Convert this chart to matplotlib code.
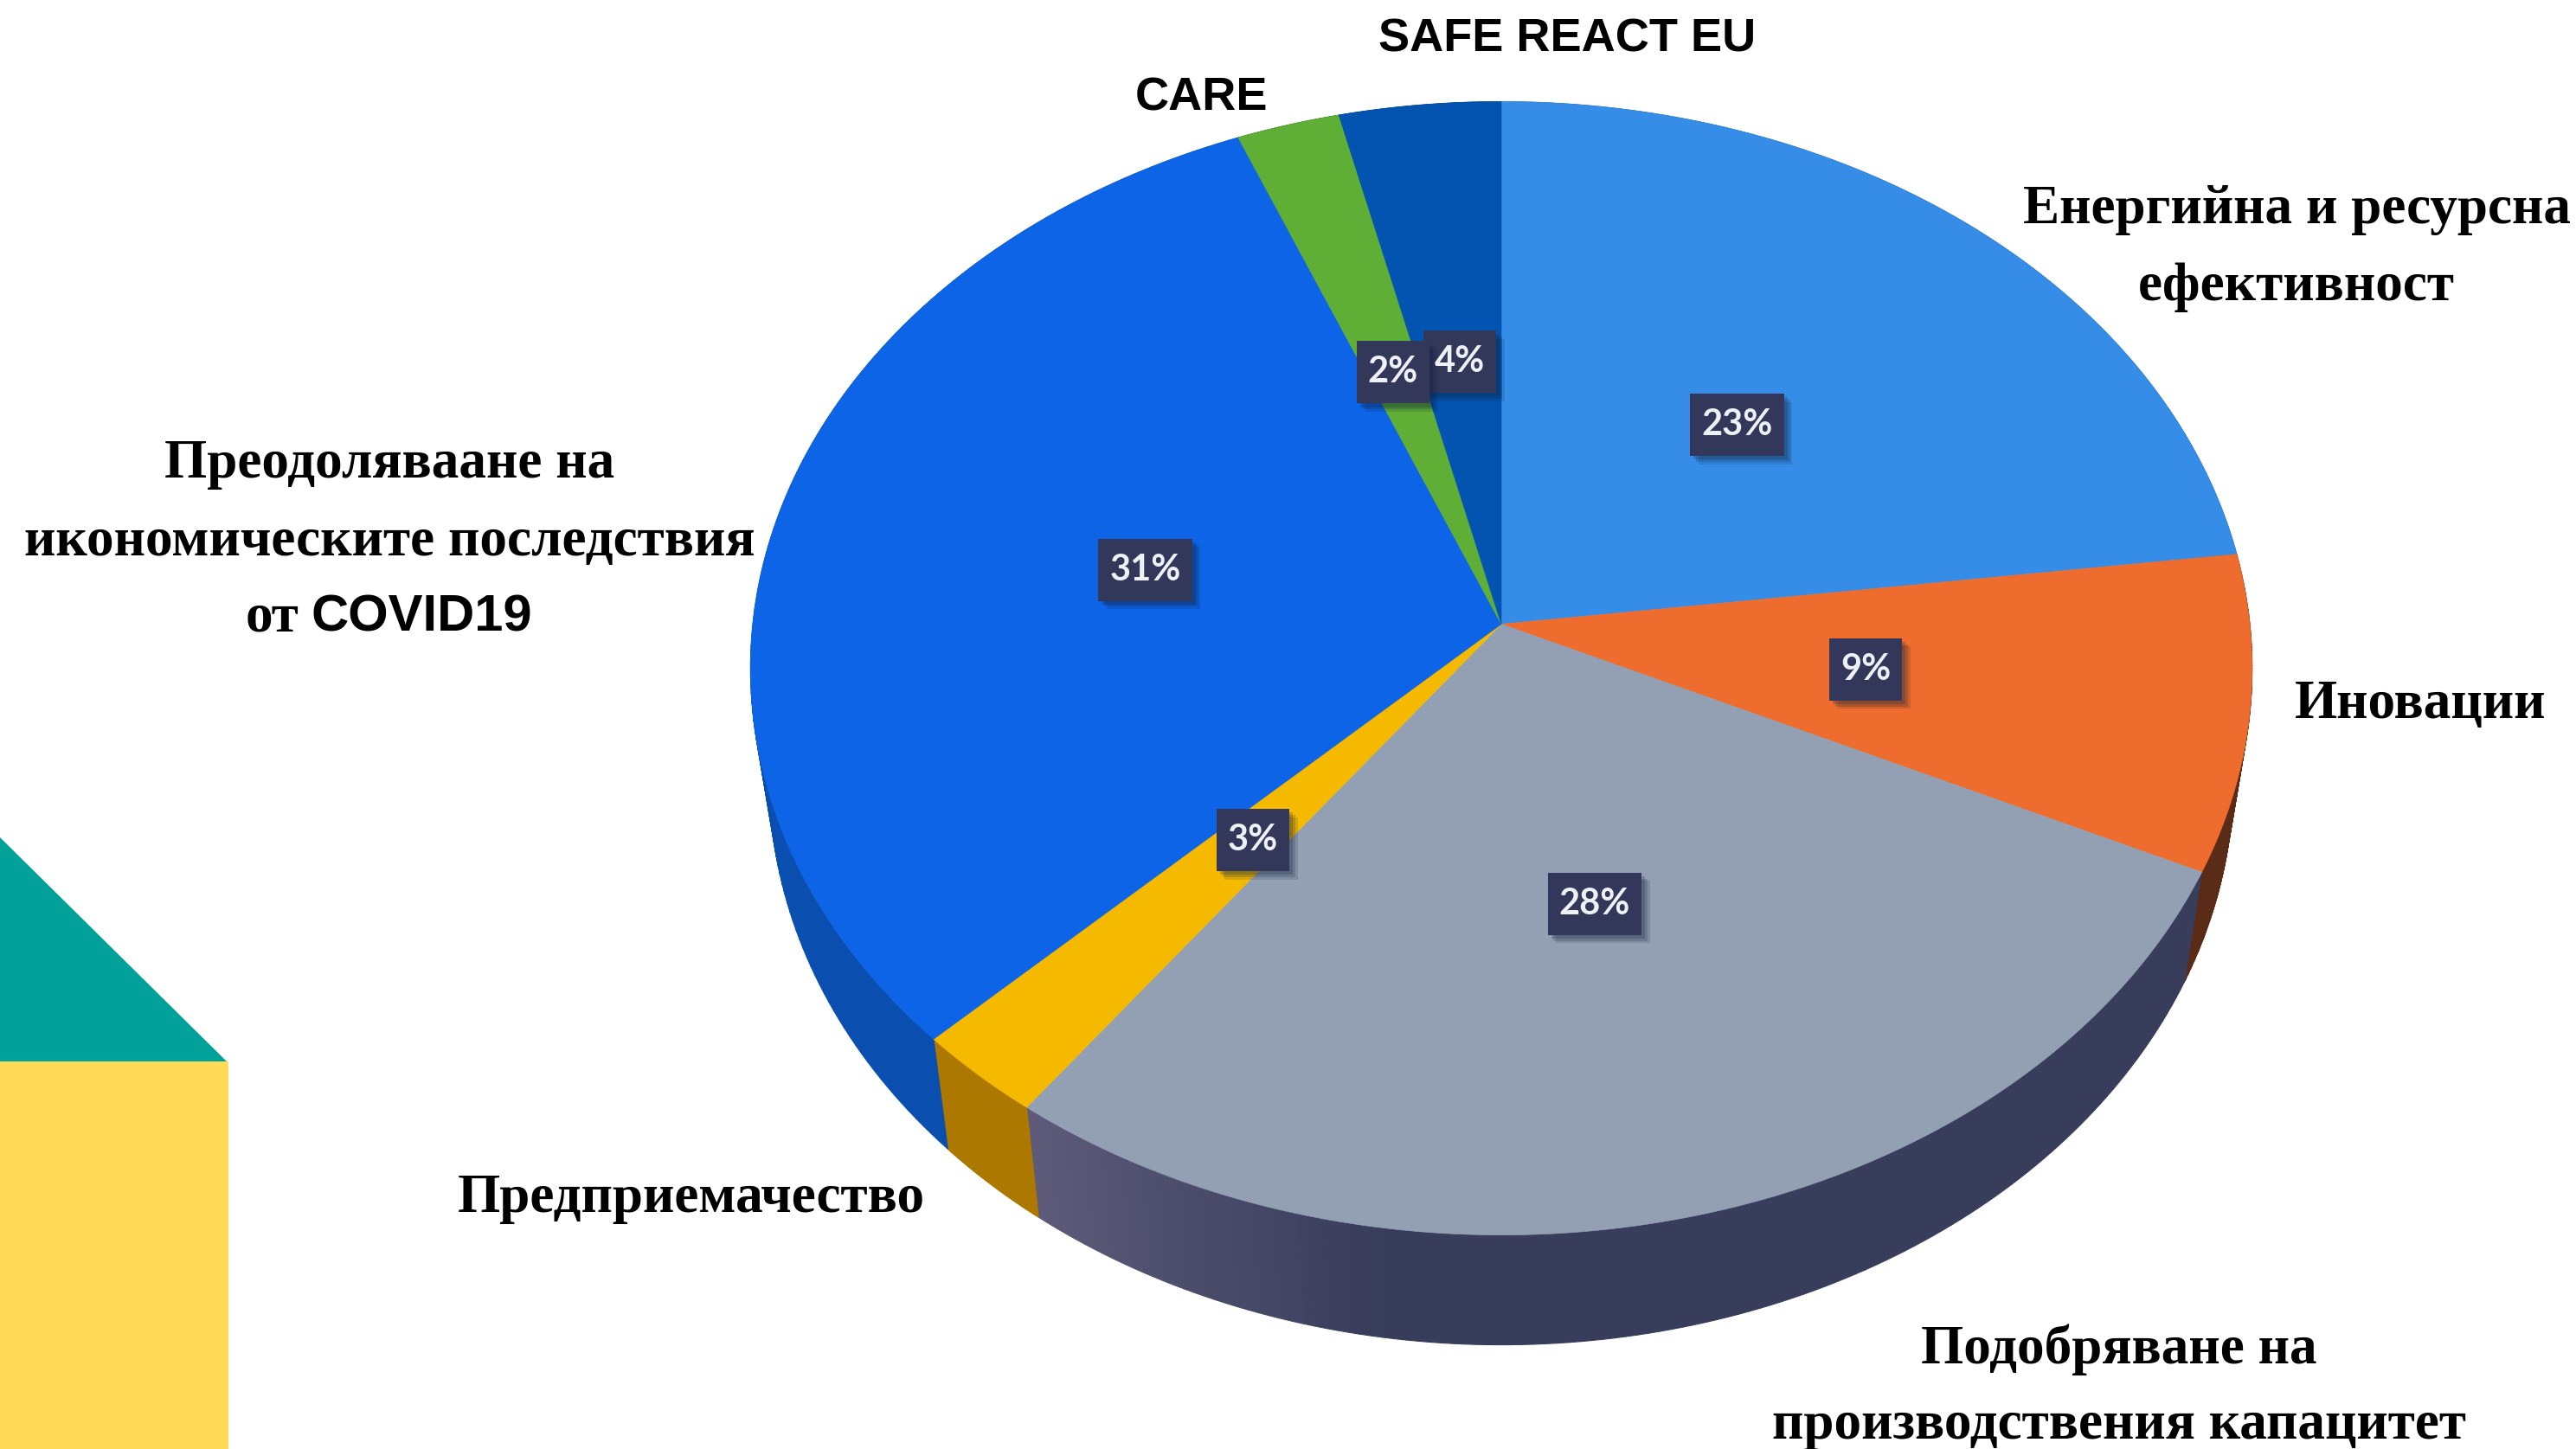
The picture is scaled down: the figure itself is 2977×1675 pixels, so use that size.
import numpy as np
import matplotlib
matplotlib.use("Agg")
import matplotlib.pyplot as plt
import matplotlib.patheffects as pe
from matplotlib.colors import to_rgb
from matplotlib.patches import Rectangle

# Data
categories = ["Енергийна и ресурсна ефективност", "Иновации",
              "Подобряване на производствения капацитет", "Предприемачество",
              "Преодоляваане на икономическите последствия от COVID19",
              "CARE", "SAFE REACT EU"]
values = [23.0, 9.0, 28.13, 2.6, 31.12, 2.4, 3.75]
pct_labels = ["23%", "9%", "28%", "3%", "31%", "2%", "4%"]
top_colors = ["#358DE8", "#EE6C2D", "#93A0B3", "#F5BA00", "#0D64E6", "#5FAE36", "#0254B0"]
wall_start = ["#1E5FA8", "#5A2C18", "#383D5B", "#AD7800", "#0A4FB0", "#3A7020", "#013A80"]
wall_end = ["#1E5FA8", "#5A2C18", "#5E5C7A", "#AD7800", "#0A4FB0", "#3A7020", "#013A80"]

W, H = 2977, 1675
CX, CY = 1735.0, 721.5      # image of the pie centre
A, B, K = 865.0, 651.0, 0.078
DEPTH, WALL_SCALE = 127.0, 0.975
LABEL_R = 0.49
BOX_PADX, BOX_H = 13, 72

fig = plt.figure(figsize=(W / 100, H / 100), dpi=100, facecolor="white")
ax = fig.add_axes([0, 0, 1, 1])
ax.set_xlim(0, W)
ax.set_ylim(H, 0)
ax.axis("off")


def project(theta, r=1.0):
    den = 1 + K * r * np.cos(theta)
    return CX + A * r * np.sin(theta) / den, CY - B * r * np.cos(theta) / den


# decorative corner shapes
ax.fill([0, 0, 262], [968, 1227, 1227], color="#00A199", lw=0)
ax.fill([0, 264, 264, 0], [1227, 1227, H, H], color="#FFDB58", lw=0)

edges = np.radians(np.concatenate([[0], np.cumsum(values)]) / sum(values) * 360)

# side wall, drawn in small strips so it can carry a gradient
for i in range(len(values)):
    th = np.linspace(edges[i], edges[i + 1], 121)
    c0, c1 = np.array(to_rgb(wall_start[i])), np.array(to_rgb(wall_end[i]))
    n = len(th) - 1
    for j in range(n):
        f = max(0.0, (j / n - 0.72) / 0.28)
        col = c0 + (c1 - c0) * f
        t = th[j:j + 2]
        x, y = project(t)
        xb = CX + (x - CX) * WALL_SCALE
        yb = y + DEPTH
        ax.fill(np.r_[x, xb[::-1]], np.r_[y, yb[::-1]], color=col, lw=0.8, zorder=2)

# top faces
for i in range(len(values)):
    th = np.linspace(edges[i], edges[i + 1], 300)
    x, y = project(th)
    ax.fill(np.r_[CX, x], np.r_[CY, y], color=top_colors[i], lw=0.5, zorder=3)

# percent labels: box sized from the measured text
renderer = fig.canvas.get_renderer()
for i, lab in enumerate(pct_labels):
    mid = (edges[i] + edges[i + 1]) / 2
    x, y = project(mid, LABEL_R)
    y += 2
    z = 5 - i * 0.01
    t = ax.text(x, y, lab, ha="center", va="center", color="#EEF1F6", fontsize=30,
                family="Lato", fontweight="bold", zorder=5.5)
    tw = t.get_window_extent(renderer).width
    box = Rectangle((x - tw / 2 - BOX_PADX, y - BOX_H / 2), tw + 2 * BOX_PADX, BOX_H,
                    fc="#33375A", ec="none", zorder=z)
    box.set_path_effects([
        pe.SimplePatchShadow(offset=(7, -7), shadow_rgbFace="#10203A", alpha=0.14),
        pe.SimplePatchShadow(offset=(5, -5), shadow_rgbFace="#10203A", alpha=0.18),
        pe.SimplePatchShadow(offset=(3, -3), shadow_rgbFace="#10203A", alpha=0.22),
        pe.Normal()])
    ax.add_patch(box)

serif = dict(family="Liberation Serif", fontweight="bold", color="black", fontsize=45.5,
             va="baseline", zorder=6)
sans = dict(family="Liberation Sans", fontweight="bold", color="black", fontsize=39,
            va="baseline", zorder=6)

ax.text(1811, 59, "SAFE REACT EU", ha="center", **sans)
ax.text(1388, 127, "CARE", ha="center", **sans)
ax.text(2654, 258, "Енергийна и ресурсна", ha="center", **serif)
ax.text(2654, 347, "ефективност", ha="center", **serif)
ax.text(2797, 830, "Иновации", ha="center", **serif)
ax.text(2449, 1576, "Подобряване на", ha="center", **serif)
ax.text(2449, 1663, "производствения капацитет", ha="center", **serif)
ax.text(799, 1401, "Предприемачество", ha="center", **serif)
ax.text(450, 552, "Преодоляваане на", ha="center", **serif)
ax.text(450, 642, "икономическите последствия", ha="center", **serif)
ax.text(345, 729, "от", ha="right", **serif)
covid = dict(sans, fontsize=43)
ax.text(359, 729, "COVID19", ha="left", **covid)

fig.savefig("out.png", dpi=100, facecolor="white")
